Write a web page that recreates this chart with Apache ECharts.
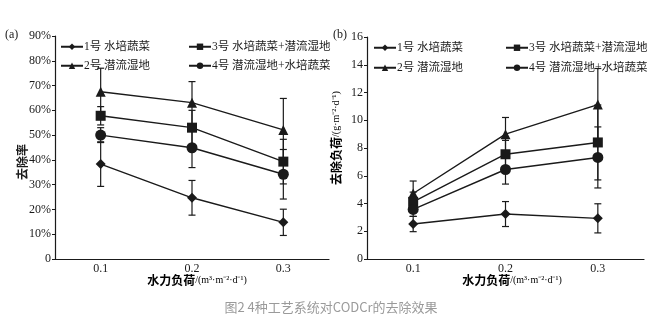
<!DOCTYPE html>
<html>
<head>
<meta charset="utf-8">
<script src="https://cdn.jsdelivr.net/npm/echarts@6/dist/echarts.min.js"></script>
<style>
  html, body { margin: 0; padding: 0; background: #fff; }
  #chart { width: 672px; height: 331px; }
</style>
</head>
<body>
<div id="chart"></div>
<script>
// Hydraulic loading categories (m3·m-2·d-1)
const categories = ['0.1', '0.2', '0.3'];
const seriesNames = ['1号 水培蔬菜', '2号 潜流湿地', '3号 水培蔬菜+潜流湿地', '4号 潜流湿地+水培蔬菜'];
const symbols = ['diamond', 'triangle', 'rect', 'circle'];
const symbolSizes = [10, 10, 10, 11];

// (a) removal rate, %
const rate1 = [38.3, 24.7, 14.8];
const rate2 = [67.5, 63.1, 52.1];
const rate3 = [57.8, 53.0, 39.3];
const rate4 = [50.0, 44.9, 34.2];
const rateErr1 = [9.0, 7.0, 5.3];
const rateErr2 = [9.5, 8.5, 12.7];
const rateErr3 = [3.7, 7.0, 9.0];
const rateErr4 = [3.0, 8.0, 10.0];

// (b) removal load, g·m-2·d-1
const load1 = [2.52, 3.24, 2.93];
const load2 = [4.72, 9.0, 11.13];
const load3 = [4.12, 7.55, 8.4];
const load4 = [3.57, 6.45, 7.32];
const loadErr1 = [0.55, 0.9, 1.05];
const loadErr2 = [0.9, 1.2, 2.6];
const loadErr3 = [0.7, 1.0, 2.7];
const loadErr4 = [0.5, 1.05, 2.2];

const rateTicks = ['0', '10%', '20%', '30%', '40%', '50%', '60%', '70%', '80%', '90%'];

const serifFont = '"Liberation Serif", "Noto Sans CJK SC", serif';
const ink = '#1a1a1a';

function errorBars(values, errs, gridIdx) {
  return {
    type: 'custom',
    xAxisIndex: gridIdx,
    yAxisIndex: gridIdx,
    silent: true,
    z: 1,
    data: values.map((v, i) => [i, v - errs[i], v + errs[i]]),
    renderItem: function (params, api) {
      const lo = api.coord([api.value(0), api.value(1)]);
      const hi = api.coord([api.value(0), api.value(2)]);
      const w = 3.5;
      const style = { stroke: ink, lineWidth: 1.2 };
      return {
        type: 'group',
        children: [
          { type: 'line', shape: { x1: hi[0], y1: hi[1], x2: lo[0], y2: lo[1] }, style: style },
          { type: 'line', shape: { x1: hi[0] - w, y1: hi[1], x2: hi[0] + w, y2: hi[1] }, style: style },
          { type: 'line', shape: { x1: lo[0] - w, y1: lo[1], x2: lo[0] + w, y2: lo[1] }, style: style }
        ]
      };
    }
  };
}

function lineSeries(idx, values, gridIdx) {
  return {
    name: seriesNames[idx],
    type: 'line',
    xAxisIndex: gridIdx,
    yAxisIndex: gridIdx,
    data: values,
    symbol: symbols[idx],
    symbolSize: symbolSizes[idx],
    showAllSymbol: true,
    z: 3,
    itemStyle: { color: ink },
    lineStyle: { color: ink, width: 1.4 },
    emphasis: { disabled: true }
  };
}

function legendItem(idx, left, top) {
  return {
    data: [seriesNames[idx]],
    left: left,
    top: top,
    padding: 0,
    itemWidth: 22,
    itemHeight: 8,
    selectedMode: false,
    textStyle: { fontSize: 11.5, color: ink, fontFamily: serifFont, padding: [0, 0, 0, -4] }
  };
}

const xAxisBase = {
  type: 'category',
  data: categories,
  boundaryGap: true,
  axisLine: { lineStyle: { color: ink, width: 1.2 } },
  axisTick: { inside: true, length: 4, lineStyle: { color: ink } },
  axisLabel: { fontSize: 12, color: ink, fontFamily: serifFont, margin: 4 }
};

const yAxisBase = {
  type: 'value',
  splitLine: { show: false },
  axisLine: { show: true, lineStyle: { color: ink, width: 1.2 } },
  axisTick: { show: true, length: 3, lineStyle: { color: ink } },
  axisLabel: { fontSize: 12, color: ink, fontFamily: serifFont, margin: 4 }
};

const titleRich = {
  a: { fontSize: 12, fontWeight: 'bold', fontFamily: '"Noto Sans CJK SC", sans-serif', color: ink },
  b: { fontSize: 10, fontFamily: serifFont, color: ink }
};

const chart = echarts.init(document.getElementById('chart'), null, { renderer: 'canvas' });
chart.setOption({
  animation: false,
  backgroundColor: '#fff',
  grid: [
    { left: 55, right: 343, top: 36, bottom: 72 },
    { left: 367, right: 28, top: 37, bottom: 72 }
  ],
  xAxis: [
    Object.assign({ gridIndex: 0 }, xAxisBase),
    Object.assign({ gridIndex: 1 }, xAxisBase)
  ],
  yAxis: [
    Object.assign({}, yAxisBase, {
      gridIndex: 0, min: 0, max: 90, interval: 10,
      axisLabel: Object.assign({}, yAxisBase.axisLabel, {
        formatter: function (v) { return rateTicks[Math.round(v / 10)]; }
      })
    }),
    Object.assign({}, yAxisBase, { gridIndex: 1, min: 0, max: 16, interval: 2 })
  ],
  legend: [
    legendItem(0, 60, 41),
    legendItem(2, 188, 41),
    legendItem(1, 60, 60),
    legendItem(3, 188, 60),
    legendItem(0, 373, 42),
    legendItem(2, 505, 42),
    legendItem(1, 373, 62),
    legendItem(3, 505, 62)
  ],
  graphic: [
    { type: 'text', left: 5, top: 29, style: { text: '(a)', font: '12px "Liberation Serif"', fill: ink } },
    { type: 'text', left: 333, top: 29, style: { text: '(b)', font: '12px "Liberation Serif"', fill: ink } },
    {
      type: 'text', x: 22, y: 162, rotation: Math.PI / 2,
      style: { text: '去除率', font: 'bold 12px "Noto Sans CJK SC"', fill: ink, align: 'center', verticalAlign: 'middle' }
    },
    {
      type: 'text', x: 336, y: 138, rotation: Math.PI / 2,
      style: {
        text: '{a|去除负荷}{b|/(g·m⁻²·d⁻¹)}',
        align: 'center', verticalAlign: 'middle',
        rich: titleRich
      }
    },
    {
      type: 'text', x: 197, y: 280,
      style: {
        text: '{a|水力负荷}{b|/(m³·m⁻²·d⁻¹)}',
        align: 'center', verticalAlign: 'middle',
        rich: titleRich
      }
    },
    {
      type: 'text', x: 512, y: 280,
      style: {
        text: '{a|水力负荷}{b|/(m³·m⁻²·d⁻¹)}',
        align: 'center', verticalAlign: 'middle',
        rich: titleRich
      }
    },
    {
      type: 'text', x: 331, y: 307,
      style: {
        text: '图2 4种工艺系统对CODCr的去除效果',
        font: '13px "Noto Sans CJK SC"', fill: '#9a9a9a',
        align: 'center', verticalAlign: 'middle'
      }
    }
  ],
  series: [
    errorBars(rate1, rateErr1, 0),
    errorBars(rate2, rateErr2, 0),
    errorBars(rate3, rateErr3, 0),
    errorBars(rate4, rateErr4, 0),
    lineSeries(0, rate1, 0),
    lineSeries(1, rate2, 0),
    lineSeries(2, rate3, 0),
    lineSeries(3, rate4, 0),
    errorBars(load1, loadErr1, 1),
    errorBars(load2, loadErr2, 1),
    errorBars(load3, loadErr3, 1),
    errorBars(load4, loadErr4, 1),
    lineSeries(0, load1, 1),
    lineSeries(1, load2, 1),
    lineSeries(2, load3, 1),
    lineSeries(3, load4, 1)
  ]
});
</script>
</body>
</html>
